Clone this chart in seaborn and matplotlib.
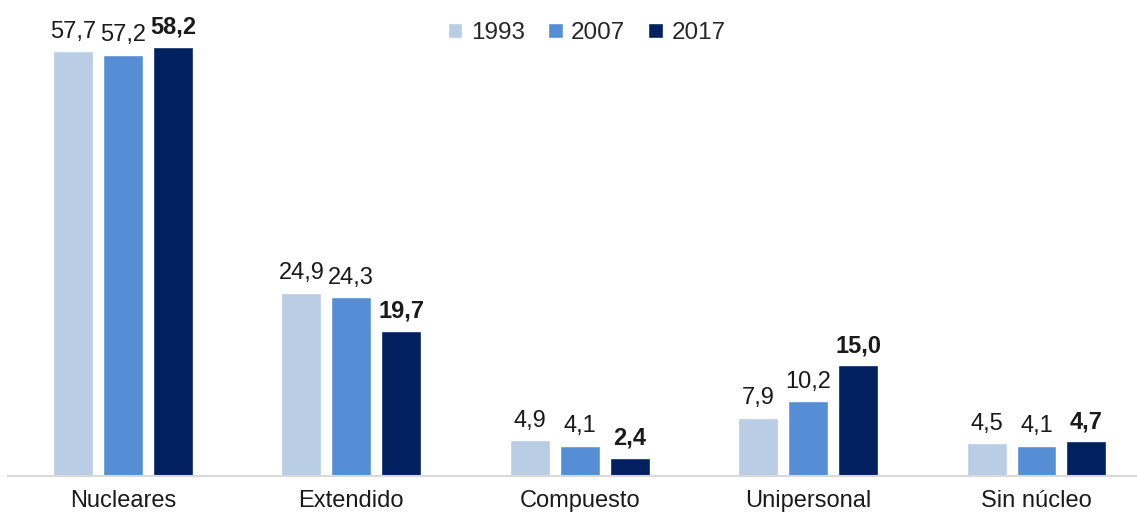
import pandas as pd
import matplotlib.pyplot as plt
import seaborn as sns

categorias = ["Nucleares", "Extendido", "Compuesto", "Unipersonal", "Sin núcleo"]
anios = ["1993", "2007", "2017"]
v1993 = [57.7, 24.9, 4.9, 7.9, 4.5]
v2007 = [57.2, 24.3, 4.1, 10.2, 4.1]
v2017 = [58.2, 19.7, 2.4, 15.0, 4.7]
colores = ["#B9CDE5", "#558ED5", "#002060"]

df = pd.DataFrame({
    "tipo": categorias * 3,
    "anio": [a for a in anios for _ in categorias],
    "valor": v1993 + v2007 + v2017,
})

sns.set_theme(style="white")
plt.rcParams['font.family'] = ['Liberation Sans', 'DejaVu Sans']

fig = plt.figure(figsize=(11.37, 5.13), dpi=100)
ax = fig.add_axes([8 / 1137, 37 / 513, 1 - 8 / 1137, 476 / 513])

sns.barplot(data=df, x="tipo", y="valor", hue="anio", palette=colores,
            width=0.656, ax=ax, saturation=1, legend=True)

# narrow the bars a bit so there is white space between them
for p in ax.patches:
    w = p.get_width()
    if w == 0:
        continue
    p.set_x(p.get_x() + w * 0.1)
    p.set_width(w * 0.8)

for i, cont in enumerate(ax.containers):
    labels = [f"{v:.1f}".replace(".", ",") for v in cont.datavalues]
    ax.bar_label(cont, labels=labels, padding=6, fontsize=17,
                 fontweight="bold" if i == 2 else "normal", color="#1a1a1a")

ax.set_ylim(0, 64.6)
ax.set_xlim(-0.503, 4.44)
ax.set_xlabel("")
ax.set_ylabel("")
ax.set_yticks([])
ax.tick_params(axis="x", length=0, pad=10, labelsize=17, labelcolor="#1a1a1a")
for s in ["top", "right", "left"]:
    ax.spines[s].set_visible(False)
ax.spines["bottom"].set_color("#D9D9D9")
ax.spines["bottom"].set_linewidth(1.5)

ax.legend(loc="center", bbox_to_anchor=(0.516, 0.935), bbox_transform=fig.transFigure,
          ncol=3, frameon=False, fontsize=17.5, handlelength=0.6, handleheight=0.6,
          handletextpad=0.35, columnspacing=0.95)

fig.savefig("out.png", dpi=100)
